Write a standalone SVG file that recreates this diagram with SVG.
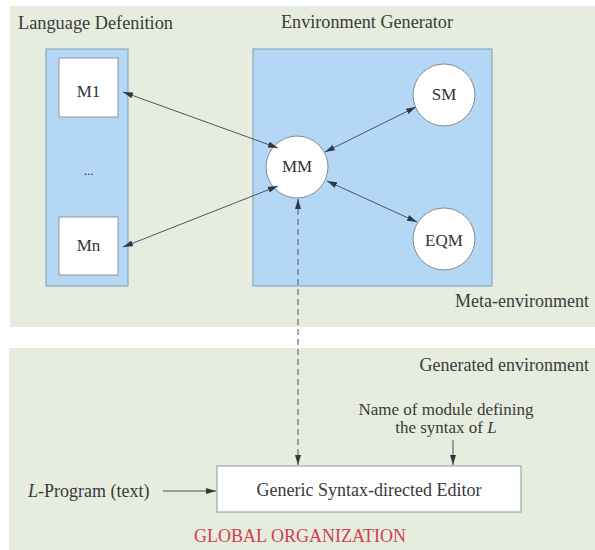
<svg xmlns="http://www.w3.org/2000/svg" width="595" height="550" viewBox="0 0 595 550">
<defs>
<marker id="ah" viewBox="0 0 10 6" refX="10" refY="3" markerWidth="10" markerHeight="6" markerUnits="userSpaceOnUse" orient="auto-start-reverse">
<path d="M0,0 L10,3 L0,6 Z" fill="#2f3a44"/>
</marker>
</defs>
<style>
.t{font-family:"Liberation Serif","Times New Roman",serif;font-size:18px;fill:#3a3a3a}
.n{font-family:"Liberation Serif","Times New Roman",serif;font-size:17px;fill:#333}
.panel{fill:#e6eddf}
.blue{fill:#b3d7f5;stroke:#7f9cb4;stroke-width:1}
.box{fill:#fff;stroke:#8796a3;stroke-width:1}
.c{fill:#fff;stroke:#7c8c9b;stroke-width:1}
.ln{fill:none;stroke:#4a5560;stroke-width:1}
.dash{stroke-dasharray:6,4}
</style>
<rect width="595" height="550" fill="#fff"/>
<rect class="panel" x="10" y="6" width="585" height="321"/>
<rect class="panel" x="9" y="348" width="586" height="202"/>
<text class="t" x="18" y="29" textLength="155" lengthAdjust="spacingAndGlyphs">Language Defenition</text>
<text class="t" x="281" y="28" textLength="172" lengthAdjust="spacingAndGlyphs">Environment Generator</text>
<text class="t" x="589" y="307" text-anchor="end">Meta-environment</text>
<text class="t" x="589" y="371" text-anchor="end">Generated environment</text>
<g id="langdef">
<rect class="blue" x="46" y="49" width="82" height="237"/>
</g>
<g id="envgen">
<rect class="blue" x="253" y="49" width="239" height="237"/>
</g>
<g id="M1">
<rect class="box" x="59" y="58" width="59" height="59"/>
<text class="n" x="88.5" y="97" text-anchor="middle">M1</text>
</g>
<g id="dots">
<text class="n" x="88.5" y="175" text-anchor="middle" style="font-size:13px">...</text>
</g>
<g id="Mn">
<rect class="box" x="59" y="217" width="59" height="58"/>
<text class="n" x="88.5" y="251" text-anchor="middle">Mn</text>
</g>
<g id="MM">
<circle class="c" cx="297" cy="167" r="31"/>
<text class="n" x="297" y="172" text-anchor="middle">MM</text>
</g>
<g id="SM">
<circle class="c" cx="444" cy="95" r="31"/>
<text class="n" x="444" y="100" text-anchor="middle">SM</text>
</g>
<g id="EQM">
<circle class="c" cx="444" cy="239" r="31"/>
<text class="n" x="444" y="246" text-anchor="middle">EQM</text>
</g>
<g id="editor">
<rect class="box" x="217" y="466" width="304" height="46"/>
<text class="t" x="369" y="496" text-anchor="middle">Generic Syntax-directed Editor</text>
</g>
<g id="input-program">
<text class="t" x="28" y="497"><tspan font-style="italic">L</tspan>-Program (text)</text>
</g>
<g id="module-name">
<text class="t" x="446" y="415" text-anchor="middle" style="font-size:17px">Name of module defining</text>
<text class="t" x="446" y="433" text-anchor="middle" style="font-size:17px">the syntax of <tspan font-style="italic">L</tspan></text>
</g>
<g id="connectors">
<line class="ln" x1="123" y1="92" x2="278" y2="148" marker-start="url(#ah)" marker-end="url(#ah)"/>
<line class="ln" x1="123" y1="247" x2="278" y2="186" marker-start="url(#ah)" marker-end="url(#ah)"/>
<line class="ln" x1="325" y1="152" x2="416" y2="107" marker-start="url(#ah)" marker-end="url(#ah)"/>
<line class="ln" x1="327" y1="181" x2="417" y2="222" marker-start="url(#ah)" marker-end="url(#ah)"/>
<line class="ln dash" x1="298" y1="199" x2="298" y2="465" marker-start="url(#ah)" marker-end="url(#ah)"/>
<line class="ln" x1="453" y1="440" x2="453" y2="465" marker-end="url(#ah)"/>
<line class="ln" x1="163" y1="491" x2="216" y2="491" marker-end="url(#ah)"/>
</g>
<text x="300" y="542" text-anchor="middle" style="font-family:'Liberation Serif','Times New Roman',serif;font-size:18px;fill:#d2404e">GLOBAL ORGANIZATION</text>
</svg>
